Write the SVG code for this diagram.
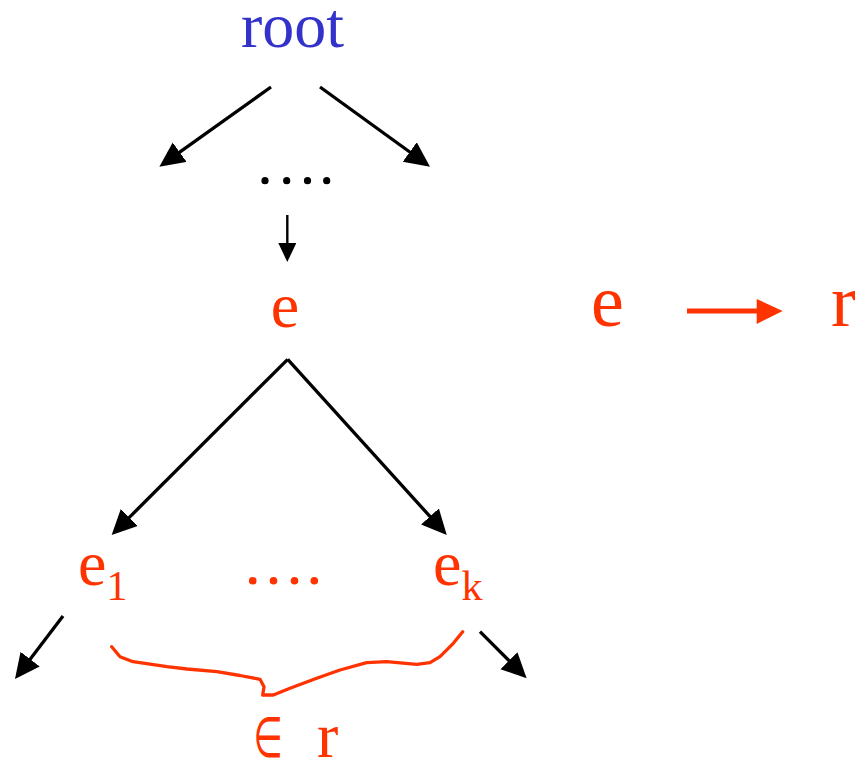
<svg xmlns="http://www.w3.org/2000/svg" width="861" height="762" viewBox="0 0 861 762">
<style>
.t{font-family:"Liberation Serif","Times New Roman",serif;font-size:64px}
.big{font-size:74px}
.blue{fill:#3333cc}
.red{fill:#ff3300}
.sub{font-size:42px}
.sym{font-family:"DejaVu Sans",sans-serif;font-size:56px;fill:#ff3300}
.edge{stroke:#000;stroke-width:3.3;fill:none}
.thin{stroke:#000;stroke-width:2.4;fill:none}
</style>
<defs>
<marker id="ah" markerUnits="userSpaceOnUse" markerWidth="26" markerHeight="26" refX="6" refY="12" orient="auto">
<path d="M0,0 L25,12 L0,24 z" fill="#000"/>
</marker>
<marker id="ahs" markerUnits="userSpaceOnUse" markerWidth="20" markerHeight="20" refX="5" refY="9" orient="auto">
<path d="M0,0 L19,9 L0,18 z" fill="#000"/>
</marker>
</defs>
<g id="root"><text class="t blue" x="241" y="47">root</text></g>
<g id="dots-top" fill="#000">
<circle cx="265" cy="180.7" r="3.6"/><circle cx="286.7" cy="180.7" r="3.6"/><circle cx="307.5" cy="180.7" r="3.6"/><circle cx="326.7" cy="180.7" r="3.6"/>
</g>
<g id="e"><text class="t red" x="285" y="327" text-anchor="middle">e</text></g>
<g id="e1"><text class="t red" x="78" y="585">e<tspan class="sub" y="600">1</tspan></text></g>
<g id="dots-mid" fill="#ff3300">
<circle cx="252.7" cy="580.7" r="3.8"/><circle cx="273.5" cy="580.7" r="3.8"/><circle cx="294.5" cy="580.7" r="3.8"/><circle cx="314.3" cy="580.7" r="3.8"/>
</g>
<g id="ek"><text class="t red" x="433" y="585">e<tspan class="sub" y="600">k</tspan></text></g>
<g id="in-r">
<g transform="translate(256,757) scale(0.6,1)"><text class="sym" x="-4" y="0">∈</text></g>
<text class="t red" x="317" y="757">r</text>
</g>
<g id="rule">
<text class="t big red" x="607.5" y="326" text-anchor="middle">e</text>
<line x1="687" y1="311" x2="758" y2="311" stroke="#ff3300" stroke-width="5"/>
<polygon points="756.7,299 782.7,311 756.7,324" fill="#ff3300"/>
<text class="t big red" x="831" y="326">r</text>
</g>
<g id="connectors">
<line class="edge" stroke-width="3.5" x1="271" y1="87" x2="174.8" y2="155.7" marker-end="url(#ah)"/>
<line class="edge" stroke-width="3.5" x1="320" y1="87" x2="414.6" y2="155.5" marker-end="url(#ah)"/>
<line class="thin" x1="287.3" y1="215" x2="287.3" y2="248" marker-end="url(#ahs)"/>
<line class="edge" x1="287.7" y1="359.3" x2="125.1" y2="521.6" marker-end="url(#ah)"/>
<line class="edge" x1="287.7" y1="359.3" x2="434" y2="520.9" marker-end="url(#ah)"/>
<line class="edge" stroke-width="2.7" x1="63" y1="616" x2="26.5" y2="663.9" marker-end="url(#ah)"/>
<line class="edge" stroke-width="3" x1="480" y1="631.7" x2="513.2" y2="664.9" marker-end="url(#ah)"/>
</g>
<g id="brace">
<polyline fill="none" stroke="#ff3300" stroke-width="3.3" stroke-linejoin="round" stroke-linecap="round" points="111.7,646.7 120,656.7 133,661.7 167,666.7 187,669 217,671.7 240,675.5 260,679.3 264,686.7 262.7,695 273.3,695 290,688.3 316.7,678.3 340,670 366.7,662.7 386.7,661.7 416.7,664.3 430,662.7 440,656.7 453.3,643.3 462.7,631.7"/>
</g>
</svg>
